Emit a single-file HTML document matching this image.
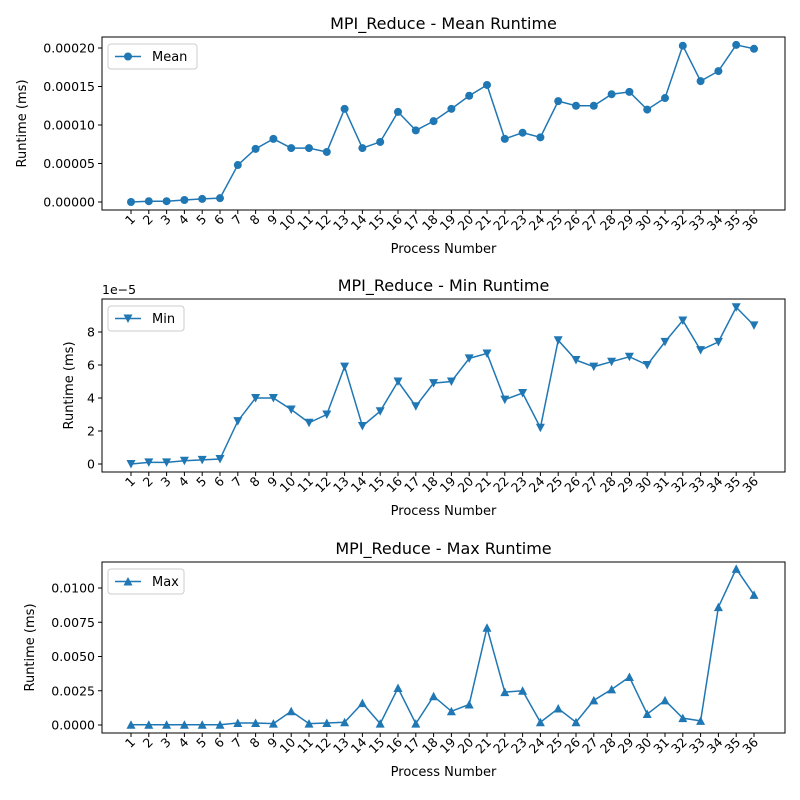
<!DOCTYPE html>
<html><head><meta charset="utf-8"><style>
body{margin:0;background:#fff}
svg{font-family:"DejaVu Sans","Liberation Sans",sans-serif;display:block}
</style></head><body>
<svg id="c" width="800" height="800" viewBox="0 0 800 800"></svg>
<script>
const categories=[];for(let i=1;i<=36;i++)categories.push(String(i));
const meanValues=[0,0.000001,0.000001,0.0000026,0.000004,0.000005,0.000048,0.000069,0.000082,0.00007,0.00007,0.000065,0.000121,0.00007,0.000078,0.000117,0.000093,0.000105,0.000121,0.000138,0.000152,0.000082,0.00009,0.000084,0.000131,0.000125,0.000125,0.00014,0.000143,0.00012,0.000135,0.000203,0.000157,0.00017,0.000204,0.000199];
const minValues=[0,0.1,0.1,0.2,0.25,0.3,2.6,4.0,4.0,3.3,2.5,3.0,5.9,2.3,3.2,5.0,3.5,4.9,5.0,6.4,6.7,3.9,4.3,2.2,7.5,6.3,5.9,6.2,6.5,6.0,7.4,8.7,6.9,7.4,9.5,8.4];
const maxValues=[0.00002,0.00002,0.00002,0.00002,0.00002,0.00002,0.00015,0.00015,0.0001,0.001,0.0001,0.00015,0.0002,0.0016,0.0001,0.0027,0.0001,0.0021,0.001,0.0015,0.0071,0.0024,0.0025,0.0002,0.0012,0.0002,0.0018,0.0026,0.0035,0.0008,0.0018,0.0005,0.0003,0.0086,0.0114,0.0095];
const meanTicks=[0,0.00005,0.0001,0.00015,0.0002];
const meanTickLabels=["0.00000","0.00005","0.00010","0.00015","0.00020"];
const minTicks=[0,2,4,6,8];
const minTickLabels=["0","2","4","6","8"];
const maxTicks=[0,0.0025,0.005,0.0075,0.01];
const maxTickLabels=["0.0000","0.0025","0.0050","0.0075","0.0100"];

const svg=document.getElementById('c');const NS='http://www.w3.org/2000/svg';
function mk(t,a,p){const e=document.createElementNS(NS,t);for(const k in a)e.setAttribute(k,a[k]);(p||svg).appendChild(e);return e;}
const C='#1f77b4';
function marker(g,kind,x,y){
  let e;
  if(kind==='o'){e=mk('circle',{cx:x,cy:y,r:4,fill:C},g);}
  else if(kind==='v'){e=mk('polygon',{points:`${x-4.5},${y-4} ${x+4.5},${y-4} ${x},${y+4.5}`,fill:C},g);}
  else {e=mk('polygon',{points:`${x-4.5},${y+4} ${x+4.5},${y+4} ${x},${y-4.5}`,fill:C},g);}
  
  
}
function panel(o){
  const L=102,R=785,T=o.top,B=o.bottom;
  const g=mk('g',{});
  
  
  const x0=131,dx=(754-131)/35;
  const xs=i=>x0+i*dx;
  const ys=v=>o.y0+(v-o.v0)*(o.y1-o.y0)/(o.v1-o.v0);
  const box=mk('rect',{x:L,y:T,width:R-L,height:B-T,fill:'none',stroke:'#000','stroke-width':1},g);
  
  const t=mk('text',{x:(L+R)/2,y:T-8,'text-anchor':'middle','font-size':16},g);t.textContent=o.title;
  
  o.ticks.forEach((v,i)=>{const y=ys(v);mk('line',{x1:L-4,x2:L,y1:y,y2:y,stroke:'#000'},g);
    const tx=mk('text',{x:L-7,y:y+4.5,'text-anchor':'end','font-size':12.5},g);tx.textContent=o.tickLabels[i];
    });
  categories.forEach((c,i)=>{const x=xs(i);mk('line',{x1:x,x2:x,y1:B,y2:B+4,stroke:'#000'},g);
    const tx=mk('text',{x:0,y:0,'text-anchor':'end','font-size':12.5,transform:`translate(${x+5},${B+10}) rotate(-45)`},g);tx.textContent=c;
    });
  const xl=mk('text',{x:(L+R)/2,y:B+43,'text-anchor':'middle','font-size':13},g);xl.textContent='Process Number';
  
  const yl=mk('text',{x:0,y:0,'text-anchor':'middle','font-size':13,transform:`translate(${o.ylx},${(T+B)/2}) rotate(-90)`},g);yl.textContent='Runtime (ms)';
  
  if(o.offset){const of=mk('text',{x:L,y:T-5,'font-size':12.5},g);of.textContent='1e\u22125';
    }
  const pts=o.values.map((v,i)=>xs(i)+','+ys(v)).join(' ');
  const pl=mk('polyline',{points:pts,fill:'none',stroke:C,'stroke-width':1.5},g);
  
  o.values.forEach((v,i)=>marker(g,o.kind,xs(i),ys(v)));
  const lg=mk('g',{},g);
  const w=o.label==='Mean'?89:76;
  mk('rect',{x:L+6,y:T+7,width:w,height:25,rx:3,fill:'#fff',stroke:'#ccc'},lg);
  mk('line',{x1:L+13,x2:L+39,y1:T+19.5,y2:T+19.5,stroke:C,'stroke-width':1.5},lg);
  marker(lg,o.kind,L+26,T+19.5);
  const lt=mk('text',{x:L+50,y:T+24,'font-size':13},lg);lt.textContent=o.label;
}
panel({name:'mean',top:37,bottom:210,title:'MPI_Reduce - Mean Runtime',values:meanValues,ticks:meanTicks,tickLabels:meanTickLabels,v0:0,v1:0.0002,y0:202,y1:48,kind:'o',label:'Mean',ylx:26});
panel({name:'min',top:299,bottom:472,title:'MPI_Reduce - Min Runtime',values:minValues,ticks:minTicks,tickLabels:minTickLabels,v0:0,v1:8,y0:464,y1:332,kind:'v',label:'Min',ylx:73,offset:true});
panel({name:'max',top:562,bottom:733,title:'MPI_Reduce - Max Runtime',values:maxValues,ticks:maxTicks,tickLabels:maxTickLabels,v0:0,v1:0.01,y0:725,y1:588,kind:'^',label:'Max',ylx:34});
</script>
</body></html>
